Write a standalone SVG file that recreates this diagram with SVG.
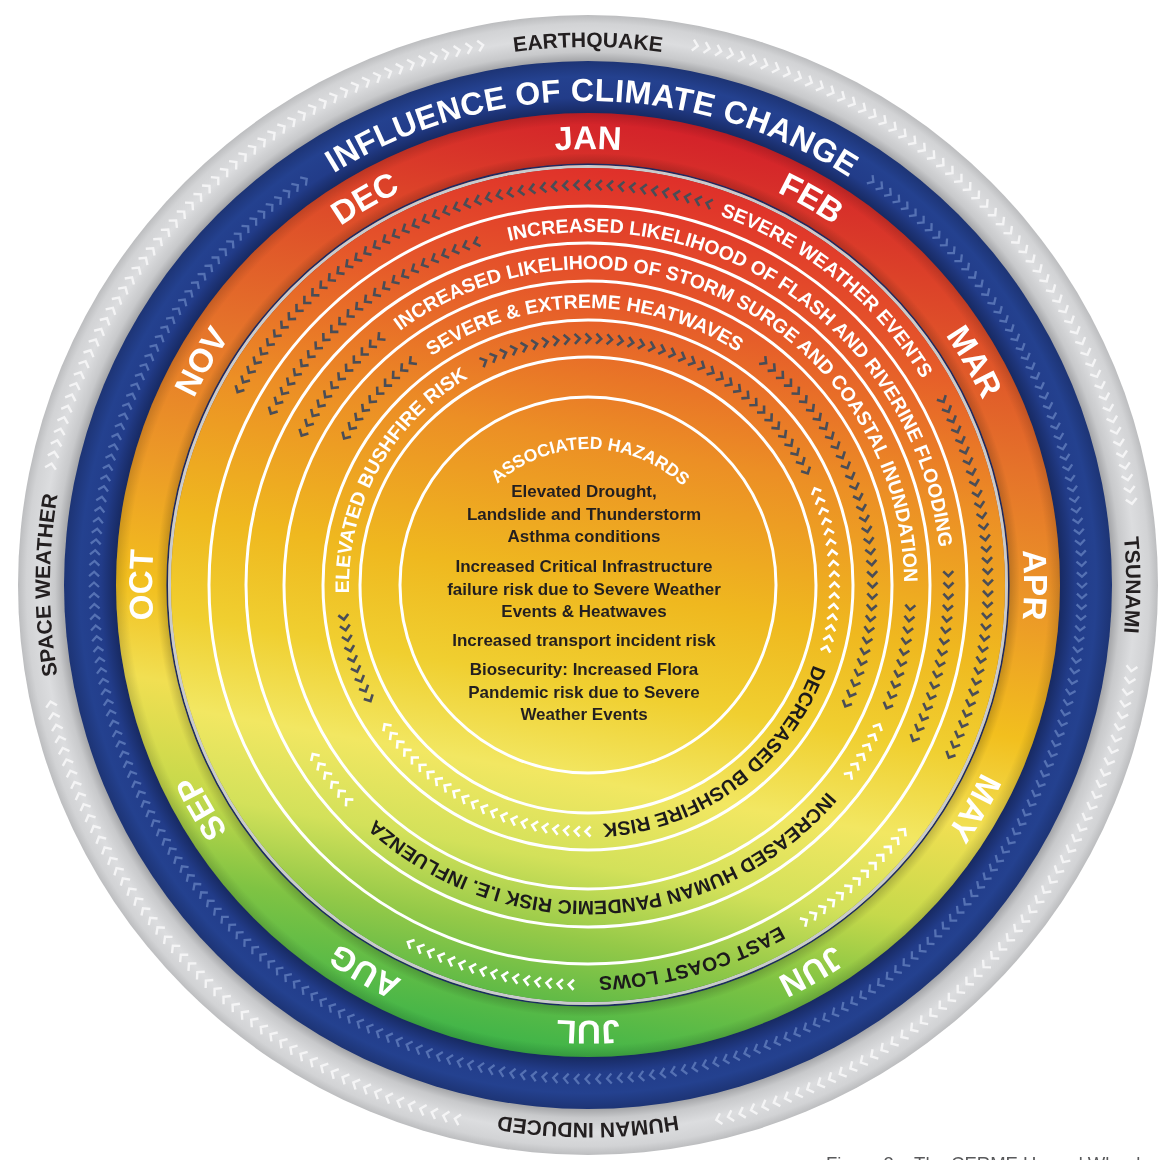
<svg xmlns="http://www.w3.org/2000/svg" width="1159" height="1160" viewBox="0 0 1159 1160">
<style>
.mon{font-family:'Liberation Sans',Arial,sans-serif;font-weight:bold;font-size:33px;fill:#fff;text-anchor:middle}
.grey{font-family:'Liberation Sans',Arial,sans-serif;font-weight:bold;font-size:21px;fill:#231f20;text-anchor:middle}
.infl{font-family:'Liberation Sans',Arial,sans-serif;font-weight:bold;font-size:32px;fill:#fff;text-anchor:middle;letter-spacing:0.4px}
.bw{font-family:'Liberation Sans',Arial,sans-serif;font-weight:bold;font-size:19.5px;fill:#fff;text-anchor:middle}
.bk{font-family:'Liberation Sans',Arial,sans-serif;font-weight:bold;font-size:19.5px;fill:#1c1a1b;text-anchor:middle}
.hz{font-family:'Liberation Sans',Arial,sans-serif;font-weight:bold;font-size:17.5px;fill:#fff;text-anchor:middle}
.ct{font-family:'Liberation Sans',Arial,sans-serif;font-weight:bold;font-size:17px;fill:#231f20;text-anchor:middle}
.wl{fill:none;stroke:#fff;stroke-width:3}
.mk{fill:none;stroke:#fff;stroke-width:30}
</style>
<defs>
<radialGradient id="gGrey" gradientUnits="userSpaceOnUse" cx="588" cy="585" r="570">
<stop offset="0.919" stop-color="#a3a4a7"/><stop offset="0.935" stop-color="#c8c9cb"/><stop offset="0.96" stop-color="#dcdddf"/><stop offset="0.985" stop-color="#d2d3d5"/><stop offset="1" stop-color="#bcbdbf"/>
</radialGradient>
<radialGradient id="gBlue" gradientUnits="userSpaceOnUse" cx="588" cy="585" r="524">
<stop offset="0.9" stop-color="#172961"/><stop offset="0.93" stop-color="#223c89"/><stop offset="0.97" stop-color="#24418f"/><stop offset="1" stop-color="#1d3475"/>
</radialGradient>
<linearGradient id="gMonth" gradientUnits="userSpaceOnUse" x1="671" y1="122" x2="505" y2="1048">
<stop offset="0" stop-color="#d3202a"/><stop offset="0.12" stop-color="#dc4229"/><stop offset="0.3" stop-color="#e5732a"/><stop offset="0.45" stop-color="#ec9a27"/><stop offset="0.58" stop-color="#f2bf1e"/><stop offset="0.68" stop-color="#f1df52"/><stop offset="0.79" stop-color="#c6d94b"/><stop offset="0.88" stop-color="#7fc343"/><stop offset="1" stop-color="#3db449"/>
</linearGradient>
<radialGradient id="gShade" gradientUnits="userSpaceOnUse" cx="588" cy="585" r="472">
<stop offset="0.885" stop-color="#000" stop-opacity="0.25"/><stop offset="0.915" stop-color="#000" stop-opacity="0"/><stop offset="0.975" stop-color="#000" stop-opacity="0"/><stop offset="1" stop-color="#000" stop-opacity="0.15"/>
</radialGradient>
<linearGradient id="gDisc" gradientUnits="userSpaceOnUse" x1="661" y1="174" x2="515" y2="996">
<stop offset="0" stop-color="#df2f2a"/><stop offset="0.15" stop-color="#e5552a"/><stop offset="0.33" stop-color="#ec8f25"/><stop offset="0.5" stop-color="#efb81f"/><stop offset="0.62" stop-color="#f0cf30"/><stop offset="0.73" stop-color="#f2e762"/><stop offset="0.83" stop-color="#d3e15a"/><stop offset="0.92" stop-color="#94c948"/><stop offset="1" stop-color="#5fba46"/>
</linearGradient>

<path id="pGrey" d="M207.57,965.43 A538,538 0 0 1 968.43,204.57 A538,538 0 0 1 207.57,965.43"/>
<path id="pBlue" d="M245.76,927.24 A484,484 0 0 1 930.24,242.76 A484,484 0 0 1 245.76,927.24"/>
<path id="pMon" d="M279.70,893.30 A436,436 0 0 1 896.30,276.70 A436,436 0 0 1 279.70,893.30"/>
<path id="pB1" d="M310.11,862.89 A393,393 0 0 1 865.89,307.11 A393,393 0 0 1 310.11,862.89"/>
<path id="pB2" d="M338.39,834.61 A353,353 0 0 1 837.61,335.39 A353,353 0 0 1 338.39,834.61"/>
<path id="pB3" d="M272,585 A316,316 0 0 1 904,585 A316,316 0 0 1 272,585"/>
<path id="pB4" d="M392.13,780.87 A277,277 0 0 1 783.87,389.13 A277,277 0 0 1 392.13,780.87"/>
<path id="pB5" d="M419,754 A239,239 0 0 1 757,416 A239,239 0 0 1 419,754"/>
<path id="pHz" d="M491.13,681.87 A137,137 0 0 1 684.87,488.13 A137,137 0 0 1 491.13,681.87"/>

<path id="c1" d="M585.5,180l5,5l-5,5"/>
<g id="c1a"><use href="#c1"/><use href="#c1" transform="rotate(1.6 588 585)"/><use href="#c1" transform="rotate(3.2 588 585)"/><use href="#c1" transform="rotate(4.8 588 585)"/><use href="#c1" transform="rotate(6.4 588 585)"/></g>
<g id="c1b"><use href="#c1a"/><use href="#c1a" transform="rotate(8 588 585)"/><use href="#c1a" transform="rotate(16 588 585)"/><use href="#c1a" transform="rotate(24 588 585)"/><use href="#c1a" transform="rotate(32 588 585)"/></g>
<g id="c1c"><use href="#c1b"/><use href="#c1b" transform="rotate(40 588 585)"/><use href="#c1b" transform="rotate(80 588 585)"/><use href="#c1b" transform="rotate(120 588 585)"/><use href="#c1b" transform="rotate(160 588 585)"/><use href="#c1b" transform="rotate(200 588 585)"/><use href="#c1b" transform="rotate(240 588 585)"/><use href="#c1b" transform="rotate(280 588 585)"/><use href="#c1b" transform="rotate(320 588 585)"/></g>
<path id="c2" d="M585.5,219.5l5,5l-5,5"/>
<g id="c2a"><use href="#c2"/><use href="#c2" transform="rotate(1.8 588 585)"/><use href="#c2" transform="rotate(3.6 588 585)"/><use href="#c2" transform="rotate(5.4 588 585)"/><use href="#c2" transform="rotate(7.2 588 585)"/></g>
<g id="c2b"><use href="#c2a"/><use href="#c2a" transform="rotate(9 588 585)"/><use href="#c2a" transform="rotate(18 588 585)"/><use href="#c2a" transform="rotate(27 588 585)"/><use href="#c2a" transform="rotate(36 588 585)"/></g>
<g id="c2c"><use href="#c2b"/><use href="#c2b" transform="rotate(45 588 585)"/><use href="#c2b" transform="rotate(90 588 585)"/><use href="#c2b" transform="rotate(135 588 585)"/><use href="#c2b" transform="rotate(180 588 585)"/><use href="#c2b" transform="rotate(225 588 585)"/><use href="#c2b" transform="rotate(270 588 585)"/><use href="#c2b" transform="rotate(315 588 585)"/></g>
<path id="c3" d="M585.5,257l5,5l-5,5"/>
<g id="c3a"><use href="#c3"/><use href="#c3" transform="rotate(2 588 585)"/><use href="#c3" transform="rotate(4 588 585)"/><use href="#c3" transform="rotate(6 588 585)"/><use href="#c3" transform="rotate(8 588 585)"/></g>
<g id="c3b"><use href="#c3a"/><use href="#c3a" transform="rotate(10 588 585)"/><use href="#c3a" transform="rotate(20 588 585)"/><use href="#c3a" transform="rotate(30 588 585)"/></g>
<g id="c3c"><use href="#c3b"/><use href="#c3b" transform="rotate(40 588 585)"/><use href="#c3b" transform="rotate(80 588 585)"/><use href="#c3b" transform="rotate(120 588 585)"/><use href="#c3b" transform="rotate(160 588 585)"/><use href="#c3b" transform="rotate(200 588 585)"/><use href="#c3b" transform="rotate(240 588 585)"/><use href="#c3b" transform="rotate(280 588 585)"/><use href="#c3b" transform="rotate(320 588 585)"/></g>
<path id="c4" d="M585.5,295.5l5,5l-5,5"/>
<g id="c4a"><use href="#c4"/><use href="#c4" transform="rotate(2.25 588 585)"/><use href="#c4" transform="rotate(4.5 588 585)"/><use href="#c4" transform="rotate(6.75 588 585)"/><use href="#c4" transform="rotate(9 588 585)"/></g>
<g id="c4b"><use href="#c4a"/><use href="#c4a" transform="rotate(11.25 588 585)"/><use href="#c4a" transform="rotate(22.5 588 585)"/><use href="#c4a" transform="rotate(33.75 588 585)"/></g>
<g id="c4c"><use href="#c4b"/><use href="#c4b" transform="rotate(45 588 585)"/><use href="#c4b" transform="rotate(90 588 585)"/><use href="#c4b" transform="rotate(135 588 585)"/><use href="#c4b" transform="rotate(180 588 585)"/><use href="#c4b" transform="rotate(225 588 585)"/><use href="#c4b" transform="rotate(270 588 585)"/><use href="#c4b" transform="rotate(315 588 585)"/></g>
<path id="c5" d="M585.5,333.5l5,5l-5,5"/>
<g id="c5a"><use href="#c5"/><use href="#c5" transform="rotate(2.5 588 585)"/><use href="#c5" transform="rotate(5 588 585)"/><use href="#c5" transform="rotate(7.5 588 585)"/></g>
<g id="c5b"><use href="#c5a"/><use href="#c5a" transform="rotate(10 588 585)"/><use href="#c5a" transform="rotate(20 588 585)"/><use href="#c5a" transform="rotate(30 588 585)"/></g>
<g id="c5c"><use href="#c5b"/><use href="#c5b" transform="rotate(40 588 585)"/><use href="#c5b" transform="rotate(80 588 585)"/><use href="#c5b" transform="rotate(120 588 585)"/><use href="#c5b" transform="rotate(160 588 585)"/><use href="#c5b" transform="rotate(200 588 585)"/><use href="#c5b" transform="rotate(240 588 585)"/><use href="#c5b" transform="rotate(280 588 585)"/><use href="#c5b" transform="rotate(320 588 585)"/></g>
<g id="ciAll" fill="none" stroke-width="2.6"><use href="#c1c"/><use href="#c2c"/><use href="#c3c"/><use href="#c4c"/><use href="#c5c"/></g>

<g id="co" fill="none">
<path d="M585.5,29.5l5,5.5l-5,5.5" stroke="#f4f4f5" stroke-width="2.4"/>
<path d="M586,86l4.5,5l-4.5,5" stroke="#5571b3" stroke-width="2.3"/>
</g>
<g id="co4"><use href="#co"/><use href="#co" transform="rotate(1.25 588 585)"/><use href="#co" transform="rotate(2.5 588 585)"/><use href="#co" transform="rotate(3.75 588 585)"/></g>
<g id="co12"><use href="#co4"/><use href="#co4" transform="rotate(5 588 585)"/><use href="#co4" transform="rotate(10 588 585)"/></g>
<g id="co72"><use href="#co12"/><use href="#co12" transform="rotate(15 588 585)"/><use href="#co12" transform="rotate(30 588 585)"/><use href="#co12" transform="rotate(45 588 585)"/><use href="#co12" transform="rotate(60 588 585)"/><use href="#co12" transform="rotate(75 588 585)"/></g>
<g id="coAll"><use href="#co72"/><use href="#co72" transform="rotate(90 588 585)"/><use href="#co72" transform="rotate(180 588 585)"/><use href="#co72" transform="rotate(270 588 585)"/></g>

<mask id="mOuter" maskUnits="userSpaceOnUse" x="0" y="0" width="1159" height="1160">
<path class="mk" pathLength="360" d="M588,35 A550,550 0 0 1 588,1135 A550,550 0 0 1 588,35" stroke-dasharray="0 10.625 71.25 16.25 68.75 26.25 65 23.75 67.5 10.625"/>
<path class="mk" pathLength="360" d="M588,91 A494,494 0 0 1 588,1079 A494,494 0 0 1 588,91" stroke-dasharray="0 34.375 291.25 34.375"/>
</mask>
<mask id="mDarkCW" maskUnits="userSpaceOnUse" x="0" y="0" width="1159" height="1160">
<path class="mk" pathLength="360" d="M588,185 A400,400 0 0 1 588,985 A400,400 0 0 1 588,185" stroke-dasharray="0 61.6 54.4 244"/>
<path class="mk" pathLength="360" d="M588,224.5 A360.5,360.5 0 0 1 588,945.5 A360.5,360.5 0 0 1 588,224.5" stroke-dasharray="0 87.3 28.8 243.9"/>
<path class="mk" pathLength="360" d="M588,262 A323,323 0 0 1 588,908 A323,323 0 0 1 588,262" stroke-dasharray="0 93 20 247"/>
<path class="mk" pathLength="360" d="M588,300.5 A284.5,284.5 0 0 1 588,869.5 A284.5,284.5 0 0 1 588,300.5" stroke-dasharray="0 37.125 78.75 244.125"/>
<path class="mk" pathLength="360" d="M588,338.5 A246.5,246.5 0 0 1 588,831.5 A246.5,246.5 0 0 1 588,338.5" stroke-dasharray="63.75 270 26.25"/>
</mask>
<mask id="mDarkCCW" maskUnits="userSpaceOnUse" x="0" y="0" width="1159" height="1160">
<path class="mk" pathLength="360" d="M588,185 A400,400 0 0 1 588,985 A400,400 0 0 1 588,185" stroke-dasharray="18.4 280 61.6"/>
<path class="mk" pathLength="360" d="M588,224.5 A360.5,360.5 0 0 1 588,945.5 A360.5,360.5 0 0 1 588,224.5" stroke-dasharray="0 297.9 45 17.1"/>
<path class="mk" pathLength="360" d="M588,262 A323,323 0 0 1 588,908 A323,323 0 0 1 588,262" stroke-dasharray="0 297 24 39"/>
<path class="mk" pathLength="360" d="M588,300.5 A284.5,284.5 0 0 1 588,869.5 A284.5,284.5 0 0 1 588,300.5" stroke-dasharray="0 300.375 22.5 37.125"/>
<path class="mk" pathLength="360" d="M588,338.5 A246.5,246.5 0 0 1 588,831.5 A246.5,246.5 0 0 1 588,338.5" stroke-dasharray="0 241.25 22.5 96.25"/>
</mask>
<mask id="mWhiteCW" maskUnits="userSpaceOnUse" x="0" y="0" width="1159" height="1160">
<path class="mk" pathLength="360" d="M588,185 A400,400 0 0 1 588,985 A400,400 0 0 1 588,185" stroke-dasharray="0 181.6 25.6 152.8"/>
<path class="mk" pathLength="360" d="M588,262 A323,323 0 0 1 588,908 A323,323 0 0 1 588,262" stroke-dasharray="0 227 12 121"/>
<path class="mk" pathLength="360" d="M588,338.5 A246.5,246.5 0 0 1 588,831.5 A246.5,246.5 0 0 1 588,338.5" stroke-dasharray="0 178.75 57.5 123.75"/>
</mask>
<mask id="mWhiteCCW" maskUnits="userSpaceOnUse" x="0" y="0" width="1159" height="1160">
<path class="mk" pathLength="360" d="M588,185 A400,400 0 0 1 588,985 A400,400 0 0 1 588,185" stroke-dasharray="0 127.2 20.8 212"/>
<path class="mk" pathLength="360" d="M588,262 A323,323 0 0 1 588,908 A323,323 0 0 1 588,262" stroke-dasharray="0 115 12 233"/>
<path class="mk" pathLength="360" d="M588,338.5 A246.5,246.5 0 0 1 588,831.5 A246.5,246.5 0 0 1 588,338.5" stroke-dasharray="0 66.25 40 253.75"/>
</mask>
</defs>

<rect width="1159" height="1160" fill="#fff"/>

<g id="hazard-ring">
<circle cx="588" cy="585" r="570" fill="url(#gGrey)"/>
</g>
<g id="climate-ring">
<circle cx="588" cy="585" r="524" fill="url(#gBlue)"/>
</g>
<g id="month-ring">
<circle cx="588" cy="585" r="472" fill="url(#gMonth)"/>
<circle cx="588" cy="585" r="472" fill="url(#gShade)"/>
</g>
<g id="seasonal-disc">
<circle cx="588" cy="585" r="420.8" fill="none" stroke="#1c2a63" stroke-width="1.6"/>
<circle cx="588" cy="585" r="418.5" fill="none" stroke="#c9cacc" stroke-width="3"/>
<circle cx="588" cy="585" r="417" fill="url(#gDisc)"/>
<circle class="wl" cx="588" cy="585" r="379"/>
<circle class="wl" cx="588" cy="585" r="342"/>
<circle class="wl" cx="588" cy="585" r="304"/>
<circle class="wl" cx="588" cy="585" r="265"/>
<circle class="wl" cx="588" cy="585" r="228"/>
<circle class="wl" cx="588" cy="585" r="188"/>
</g>

<g id="connectors">
<g mask="url(#mOuter)"><use href="#coAll"/></g>
<g mask="url(#mDarkCW)"><use href="#ciAll" stroke="#4a4d56"/></g>
<g mask="url(#mDarkCCW)"><use href="#ciAll" stroke="#4a4d56" transform="matrix(-1 0 0 1 1176 0)"/></g>
<g mask="url(#mWhiteCW)"><use href="#ciAll" stroke="#ffffff"/></g>
<g mask="url(#mWhiteCCW)"><use href="#ciAll" stroke="#ffffff" transform="matrix(-1 0 0 1 1176 0)"/></g>
</g>

<g id="hazard-labels">
<text class="grey"><textPath href="#pGrey" startOffset="37.5%">EARTHQUAKE</textPath></text>
<text class="grey"><textPath href="#pGrey" startOffset="62.5%">TSUNAMI</textPath></text>
<text class="grey"><textPath href="#pGrey" startOffset="87.5%">HUMAN INDUCED</textPath></text>
<text class="grey"><textPath href="#pGrey" startOffset="12.5%">SPACE WEATHER</textPath></text>
</g>
<g id="climate-label">
<text class="infl"><textPath href="#pBlue" startOffset="37.64%">INFLUENCE OF CLIMATE CHANGE</textPath></text>
</g>
<g id="month-labels">
<text class="mon"><textPath href="#pMon" startOffset="37.5%">JAN</textPath></text>
<text class="mon"><textPath href="#pMon" startOffset="45.833%">FEB</textPath></text>
<text class="mon"><textPath href="#pMon" startOffset="54.167%">MAR</textPath></text>
<text class="mon"><textPath href="#pMon" startOffset="62.5%">APR</textPath></text>
<text class="mon"><textPath href="#pMon" startOffset="70.833%">MAY</textPath></text>
<text class="mon"><textPath href="#pMon" startOffset="79.167%">JUN</textPath></text>
<text class="mon"><textPath href="#pMon" startOffset="87.5%">JUL</textPath></text>
<text class="mon"><textPath href="#pMon" startOffset="95.833%">AUG</textPath></text>
<text class="mon"><textPath href="#pMon" startOffset="4.167%">SEP</textPath></text>
<text class="mon"><textPath href="#pMon" startOffset="12.5%">OCT</textPath></text>
<text class="mon"><textPath href="#pMon" startOffset="20.833%">NOV</textPath></text>
<text class="mon"><textPath href="#pMon" startOffset="29.167%">DEC</textPath></text>
</g>
<g id="band-labels">
<text class="bw"><textPath href="#pB1" startOffset="48.33%">SEVERE WEATHER EVENTS</textPath></text>
<text class="bk"><textPath href="#pB1" startOffset="83.19%">EAST COAST LOWS</textPath></text>
<text class="bw"><textPath href="#pB2" startOffset="47.36%">INCREASED LIKELIHOOD OF FLASH AND RIVERINE FLOODING</textPath></text>
<text class="bw"><textPath href="#pB3" startOffset="32.36%">INCREASED LIKELIHOOD OF STORM SURGE AND COASTAL INUNDATION</textPath></text>
<text class="bk"><textPath href="#pB3" startOffset="74.03%">INCREASED HUMAN PANDEMIC RISK I.E. INFLUENZA</textPath></text>
<text class="bw"><textPath href="#pB4" startOffset="37.28%">SEVERE &amp; EXTREME HEATWAVES</textPath></text>
<text class="bw"><textPath href="#pB5" startOffset="20.56%">ELEVATED BUSHFIRE RISK</textPath></text>
<text class="bk"><textPath href="#pB5" startOffset="77.22%">DECREASED BUSHFIRE RISK</textPath></text>
</g>
<g id="associated-hazards">
<text class="hz"><textPath href="#pHz" startOffset="37.78%">ASSOCIATED HAZARDS</textPath></text>
<text class="ct" x="584" y="497">Elevated Drought,</text>
<text class="ct" x="584" y="519.5">Landslide and Thunderstorm</text>
<text class="ct" x="584" y="542">Asthma conditions</text>
<text class="ct" x="584" y="572">Increased Critical Infrastructure</text>
<text class="ct" x="584" y="594.5">failure risk due to Severe Weather</text>
<text class="ct" x="584" y="617">Events &amp; Heatwaves</text>
<text class="ct" x="584" y="646">Increased transport incident risk</text>
<text class="ct" x="584" y="675">Biosecurity: Increased Flora</text>
<text class="ct" x="584" y="697.5">Pandemic risk due to Severe</text>
<text class="ct" x="584" y="720">Weather Events</text>
</g>
<g id="caption">
<text x="826" y="1170" font-family="'Liberation Sans',Arial,sans-serif" font-size="18.5" fill="#58595b">Figure 3 – The CERME Hazard Wheel</text>
</g>
</svg>
